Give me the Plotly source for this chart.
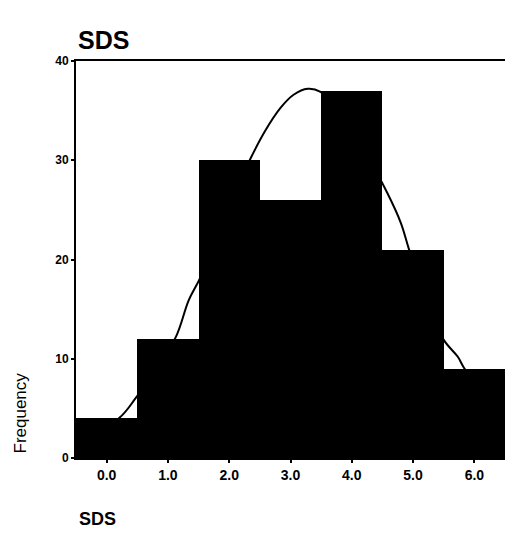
import plotly.graph_objects as go

# Data
bin_centers = [0.0, 1.0, 2.0, 3.0, 4.0, 5.0, 6.0]
frequencies = [4, 12, 30, 26, 37, 21, 9]
tick_labels = ["0.0", "1.0", "2.0", "3.0", "4.0", "5.0", "6.0"]

curve_x = [-0.5, 0.2, 0.47, 0.8, 1.13, 1.34, 1.53, 1.9, 2.35, 2.59, 2.84, 3.05,
           3.28, 3.49, 3.8, 4.2, 4.58, 4.8, 4.93, 5.2, 5.5, 5.73, 5.83, 6.2, 6.5]
curve_y = [1.5, 4.0, 6.0, 9.0, 12.2, 15.9, 18.2, 24.0, 30.2, 33.0, 35.3, 36.6,
           37.2, 36.9, 35.0, 31.0, 26.7, 23.7, 21.1, 16.0, 11.9, 10.2, 9.1, 6.0, 4.0]

y_ticks = [0, 10, 20, 30, 40]

W, H = 505, 533
L, T, B = 76, 61, 75
plot_w = W - L
plot_h = H - T - B

fig = go.Figure()
fig.add_trace(go.Bar(x=bin_centers, y=frequencies, width=1.0,
                     marker=dict(color="black", line=dict(width=0)),
                     showlegend=False))
fig.add_trace(go.Scatter(x=curve_x, y=curve_y, mode="lines",
                         line=dict(color="black", width=2, shape="spline"),
                         showlegend=False))

font_family = "Liberation Sans, Arial, sans-serif"
fig.update_layout(
    width=W, height=H,
    margin=dict(l=L, r=0, t=T, b=B, pad=0),
    paper_bgcolor="white", plot_bgcolor="white",
    bargap=0,
    font=dict(family=font_family, color="black"),
    title=dict(text="<b>SDS</b>", x=78 / W, xref="container", xanchor="left",
               y=1 - 40 / H, yref="container", yanchor="middle",
               font=dict(size=25, family=font_family, color="black")),
)

fig.update_xaxes(range=[-0.5, 6.5], tickvals=bin_centers, ticktext=tick_labels,
                 showgrid=False, zeroline=False,
                 showline=True, linecolor="black", linewidth=2, mirror=True,
                 ticks="outside", ticklen=3, tickwidth=2, tickcolor="black",
                 tickfont=dict(size=14, family=font_family, color="black",
                               weight="bold"))
fig.update_yaxes(range=[0, 40], tickvals=y_ticks,
                 showgrid=False, zeroline=False,
                 showline=True, linecolor="black", linewidth=2,
                 ticks="outside", ticklen=3, tickwidth=2, tickcolor="black",
                 tickfont=dict(size=12, family=font_family, color="black",
                               weight="bold"))

fig.add_annotation(text="Frequency", textangle=-90,
                   x=(19.5 - L) / plot_w, xref="paper", xanchor="center",
                   y=(T + plot_h - 413) / plot_h, yref="paper", yanchor="middle",
                   showarrow=False,
                   font=dict(size=17, family=font_family, color="black"))

fig.add_annotation(text="<b>SDS</b>", x=(77 - L) / plot_w, xref="paper",
                   xanchor="left",
                   y=(T + plot_h - 519) / plot_h, yref="paper", yanchor="middle",
                   showarrow=False,
                   font=dict(size=18, family=font_family, color="black"))

fig.write_html(
    "out.html",
    config={"displayModeBar": False},
    post_script=(
        "document.documentElement.style.margin='0';"
        "document.documentElement.style.overflow='hidden';"
        "document.body.style.margin='0';"
        "document.body.style.overflow='hidden';"
    ),
)
